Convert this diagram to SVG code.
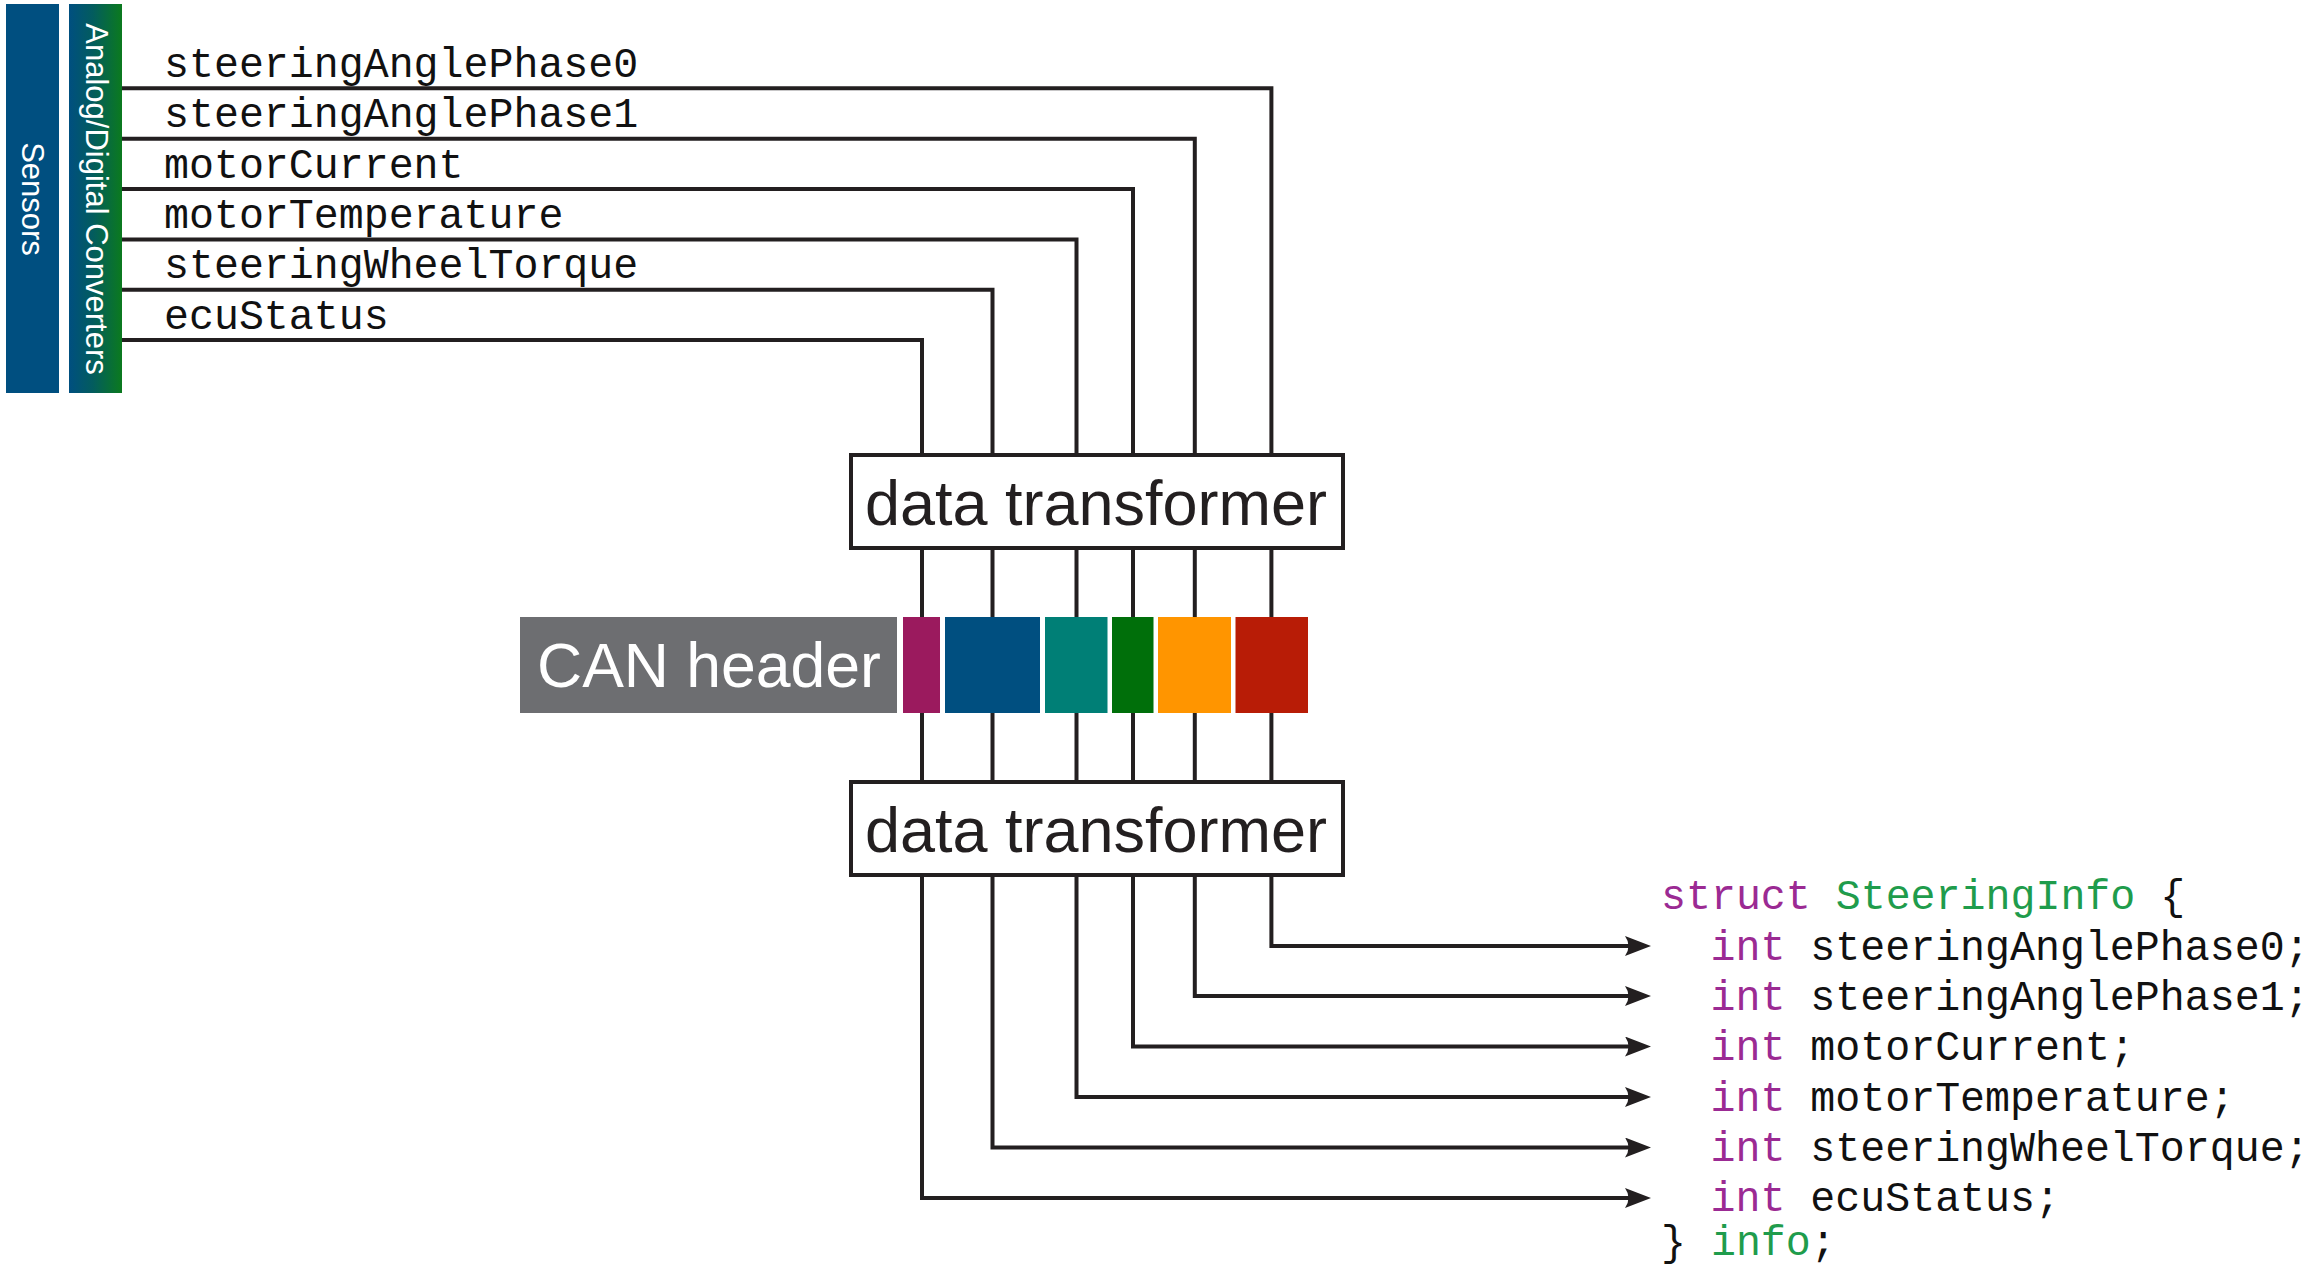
<svg xmlns="http://www.w3.org/2000/svg" width="2310" height="1268" viewBox="0 0 2310 1268">
<style>
.wire{fill:none;stroke:#231f20;stroke-width:4;stroke-linejoin:miter;stroke-linecap:butt}
.box{fill:#ffffff;stroke:#231f20;stroke-width:4}
.sans{font-family:"Liberation Sans",Arial,sans-serif}
.mono{font-family:"Liberation Mono","Courier New",monospace;font-size:41.6px;fill:#111111}
.side{font-size:31px;fill:#ffffff}
.big{font-size:63px;fill:#231f20}
.kw{fill:#9b2a93}
.ty{fill:#1f9c4c}
</style>
<defs>
<linearGradient id="adcGrad" x1="0" y1="0" x2="1" y2="0">
<stop offset="0" stop-color="#004f80"/>
<stop offset="0.45" stop-color="#035c5e"/>
<stop offset="1" stop-color="#0b7a1e"/>
</linearGradient>
<marker id="arrow" markerUnits="userSpaceOnUse" markerWidth="30" markerHeight="24" refX="8" refY="10" orient="auto" viewBox="0 0 30 24">
<path d="M0,0 L26,10 L0,20 Q7,10 0,0 Z" fill="#231f20"/>
</marker>
</defs>
<rect width="2310" height="1268" fill="#ffffff"/>

<g id="sensors">
<rect x="6" y="4" width="53" height="389" fill="#004f80"/>
<text class="sans side" transform="translate(32.5,199) rotate(90)" text-anchor="middle" dominant-baseline="central">Sensors</text>
</g>
<g id="adc">
<rect x="69" y="4" width="53" height="389" fill="url(#adcGrad)"/>
<text class="sans side" transform="translate(96,199) rotate(90)" text-anchor="middle" dominant-baseline="central">Analog/Digital Converters</text>
</g>

<g id="signal-labels" class="mono">
<text x="164" y="76.5">steeringAnglePhase0</text>
<text x="164" y="127">steeringAnglePhase1</text>
<text x="164" y="177.5">motorCurrent</text>
<text x="164" y="228">motorTemperature</text>
<text x="164" y="278">steeringWheelTorque</text>
<text x="164" y="328.5">ecuStatus</text>
</g>

<g id="connectors">
<path class="wire" d="M122,88.3 H1271.4 V455"/>
<path class="wire" d="M122,138.7 H1194.8 V455"/>
<path class="wire" d="M122,189 H1133 V455"/>
<path class="wire" d="M122,239.4 H1076.5 V455"/>
<path class="wire" d="M122,289.7 H992.5 V455"/>
<path class="wire" d="M122,340 H922 V455"/>
<path class="wire" d="M1271.4,548 V782"/>
<path class="wire" d="M1194.8,548 V782"/>
<path class="wire" d="M1133,548 V782"/>
<path class="wire" d="M1076.5,548 V782"/>
<path class="wire" d="M992.5,548 V782"/>
<path class="wire" d="M922,548 V782"/>
<path class="wire" d="M1271.4,875 V946 H1633" marker-end="url(#arrow)"/>
<path class="wire" d="M1194.8,875 V996 H1633" marker-end="url(#arrow)"/>
<path class="wire" d="M1133,875 V1046.5 H1633" marker-end="url(#arrow)"/>
<path class="wire" d="M1076.5,875 V1097 H1633" marker-end="url(#arrow)"/>
<path class="wire" d="M992.5,875 V1147.5 H1633" marker-end="url(#arrow)"/>
<path class="wire" d="M922,875 V1198 H1633" marker-end="url(#arrow)"/>
</g>

<g id="transformer-top">
<rect class="box" x="851" y="455" width="492" height="93"/>
<text class="sans big" x="1096" y="525" text-anchor="middle">data transformer</text>
</g>

<g id="can-frame">
<rect x="520" y="617" width="377" height="96" fill="#6d6e71"/>
<text class="sans" x="537" y="687" font-size="62.5" fill="#ffffff">CAN header</text>
<rect x="903" y="617" width="37" height="96" fill="#9b1a5e"/>
<rect x="945" y="617" width="95" height="96" fill="#004f80"/>
<rect x="1045" y="617" width="62.5" height="96" fill="#007f76"/>
<rect x="1112" y="617" width="41.5" height="96" fill="#006f0a"/>
<rect x="1158" y="617" width="73" height="96" fill="#ff9500"/>
<rect x="1235.5" y="617" width="72.5" height="96" fill="#b81c06"/>
</g>

<g id="transformer-bottom">
<rect class="box" x="851" y="782" width="492" height="93"/>
<text class="sans big" x="1096" y="852" text-anchor="middle">data transformer</text>
</g>

<g id="struct-code" class="mono">
<text x="1661" y="909"><tspan class="kw">struct</tspan> <tspan class="ty">SteeringInfo</tspan> {</text>
<text x="1710.5" y="959.5"><tspan class="kw">int</tspan> steeringAnglePhase0;</text>
<text x="1710.5" y="1010"><tspan class="kw">int</tspan> steeringAnglePhase1;</text>
<text x="1710.5" y="1060"><tspan class="kw">int</tspan> motorCurrent;</text>
<text x="1710.5" y="1110.5"><tspan class="kw">int</tspan> motorTemperature;</text>
<text x="1710.5" y="1161"><tspan class="kw">int</tspan> steeringWheelTorque;</text>
<text x="1710.5" y="1211"><tspan class="kw">int</tspan> ecuStatus;</text>
<text x="1661" y="1255">} <tspan class="ty">info</tspan>;</text>
</g>
</svg>
